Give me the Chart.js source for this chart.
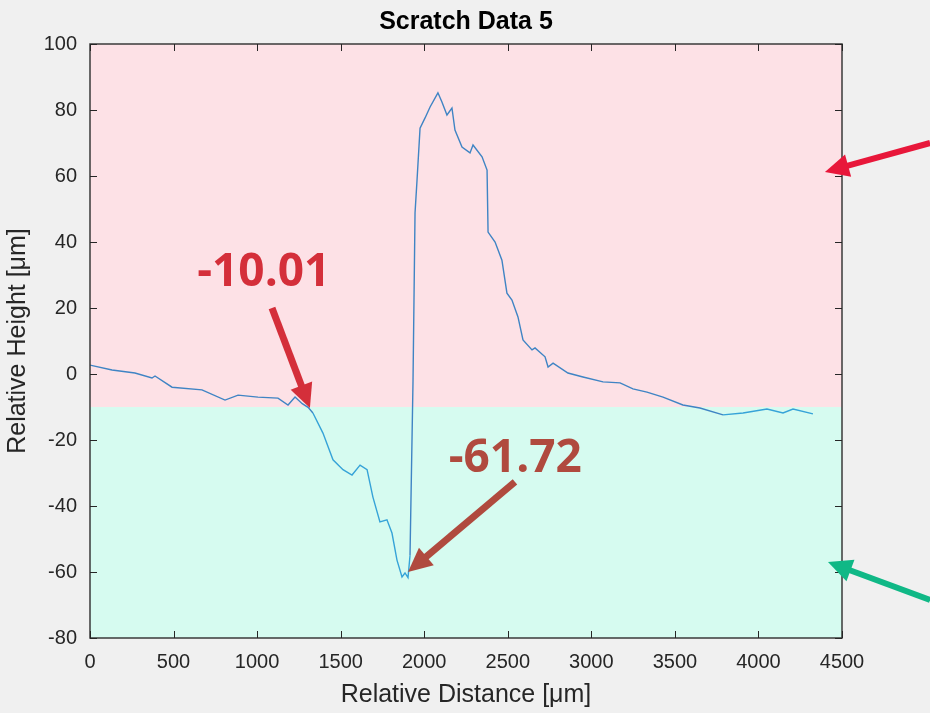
<!DOCTYPE html>
<html>
<head>
<meta charset="utf-8">
<script src="https://cdn.jsdelivr.net/npm/chart.js@4.4.1/dist/chart.umd.min.js"></script>
<style>
  html, body { margin: 0; padding: 0; background: #f0f0f0; }
  #wrap { width: 930px; height: 713px; }
</style>
</head>
<body>
<div id="wrap"><canvas id="c" width="930" height="713"></canvas></div>
<script>
// ---- data ----
const distance = [0,132,269,371,389,491,670,808,886,1005,1125,1185,1227,1270,1305,1334,1394,1454,1514,1568,1616,1658,1693,1735,1777,1807,1837,1867,1885,1903,1915,1933,1945,1957,1975,2005,2035,2082,2106,2136,2166,2184,2226,2274,2292,2346,2376,2382,2424,2465,2495,2525,2561,2591,2645,2663,2723,2741,2771,2860,2950,3070,3172,3249,3333,3429,3548,3650,3788,3908,4051,4147,4207,4326];
const height = [2.7,1.2,0.3,-1.2,-0.6,-4,-4.8,-7.9,-6.4,-7,-7.3,-9.4,-7,-9,-10.1,-11.8,-17.9,-26,-29,-30.6,-27.6,-29,-37.3,-44.8,-44.2,-48.2,-56.4,-61.5,-60.3,-61.7,-55,-2,48.8,58.8,74.5,77.6,80.9,85.2,82.4,78.5,80.6,73.9,68.8,67,69.4,65.8,61.8,43,40,34.5,24.5,22.4,17.3,10.3,7.3,7.9,5.2,2.1,3.3,0.3,-0.9,-2.4,-2.7,-4.5,-5.5,-7,-9.4,-10.3,-12.4,-11.8,-10.6,-11.8,-10.6,-12.1];
const threshold = [-10.01];
const xTicks = [0,500,1000,1500,2000,2500,3000,3500,4000,4500];
const yTicks = [-80,-60,-40,-20,0,20,40,60,80,100];
const labelTexts = ['-10.01','-61.72'];
const labelAt = [[1040,30.5],[2545,-25.6]];
const arrowFrom = [[1089,20],[2543,-32.7],[5027,70],[5027,-68.5]];
const arrowTo = [[1316,-10.3],[1903,-60],[4398,61.2],[4416,-57]];
const arrowColors = ['#d42f3a','#b04a3e','#e8173a','#10b886'];
const labelColors = ['#d42f3a','#b04a3e'];

const points = distance.map((d,i)=>({x:d,y:height[i]}));
const FONT = '"Liberation Sans", Arial, Helvetica, sans-serif';

function drawArrow(ctx, x0, y0, x1, y1, color, w, L, W) {
  const ang = Math.atan2(y1-y0, x1-x0);
  const bx = x1 - Math.cos(ang)*L, by = y1 - Math.sin(ang)*L;
  ctx.save();
  ctx.strokeStyle = color; ctx.fillStyle = color;
  ctx.lineWidth = w; ctx.lineCap = 'butt';
  ctx.beginPath(); ctx.moveTo(x0,y0); ctx.lineTo(bx + Math.cos(ang)*2, by + Math.sin(ang)*2); ctx.stroke();
  const px = -Math.sin(ang), py = Math.cos(ang);
  ctx.beginPath();
  ctx.moveTo(x1,y1);
  ctx.lineTo(bx + px*W/2, by + py*W/2);
  ctx.lineTo(bx - px*W/2, by - py*W/2);
  ctx.closePath(); ctx.fill();
  ctx.restore();
}

const decor = {
  id: 'decor',
  beforeDatasetsDraw(chart) {
    const {ctx, chartArea:a, scales:{x,y}} = chart;
    const ty = y.getPixelForValue(threshold[0]);
    ctx.save();
    ctx.fillStyle = '#fde1e6';
    ctx.fillRect(a.left, a.top, a.right-a.left, ty-a.top);
    ctx.fillStyle = '#d6fbf0';
    ctx.fillRect(a.left, ty, a.right-a.left, a.bottom-ty);
    ctx.restore();
  },
  afterDatasetsDraw(chart) {
    const {ctx, chartArea:a, scales:{x,y}} = chart;
    ctx.save();
    ctx.strokeStyle = '#3a3a3a'; ctx.lineWidth = 1.5;
    ctx.strokeRect(a.left, a.top, a.right-a.left, a.bottom-a.top);
    ctx.lineWidth = 1; ctx.strokeStyle = '#262626';
    ctx.beginPath();
    xTicks.forEach(v=>{
      const p = Math.round(x.getPixelForValue(v))+0.5;
      ctx.moveTo(p,a.bottom); ctx.lineTo(p,a.bottom-7);
      ctx.moveTo(p,a.top); ctx.lineTo(p,a.top+7);
    });
    yTicks.forEach(v=>{
      const p = Math.round(y.getPixelForValue(v))+0.5;
      ctx.moveTo(a.left,p); ctx.lineTo(a.left+7,p);
      ctx.moveTo(a.right,p); ctx.lineTo(a.right-7,p);
    });
    ctx.stroke();
    ctx.restore();
    arrowFrom.forEach((f,i)=>{
      const t = arrowTo[i];
      drawArrow(ctx, x.getPixelForValue(f[0]), y.getPixelForValue(f[1]),
        x.getPixelForValue(t[0]), y.getPixelForValue(t[1]), arrowColors[i], i<2?7:6, 24, 23);
    });
    ctx.save();
    ctx.font = 'bold 46px "Open Sans"';
    ctx.textAlign = 'center'; ctx.textBaseline = 'middle';
    labelTexts.forEach((s,i)=>{
      ctx.fillStyle = labelColors[i];
      ctx.fillText(s, x.getPixelForValue(labelAt[i][0]), y.getPixelForValue(labelAt[i][1]));
    });
    ctx.restore();
  }
};

new Chart(document.getElementById('c'), {
  type: 'scatter',
  data: { datasets: [{
    data: points, showLine: true, pointRadius: 0, borderWidth: 1.4, tension: 0,
    borderColor: '#3f84c4',
    segment: { borderColor: c => (c.p0.parsed.y < threshold[0] - 0.5 && c.p1.parsed.y < threshold[0] - 0.5) ? '#36a3d8' : '#3f84c4' }
  }]},
  options: {
    responsive: false, animation: false, events: [],
    layout: { padding: { left: 0, right: 88, top: 0, bottom: 0 } },
    plugins: {
      legend: { display: false }, tooltip: { enabled: false },
      title: { display: true, fullSize: false, text: 'Scratch Data 5', color: '#000',
        font: { family: FONT, size: 25, weight: 'bold' },
        padding: { top: 7, bottom: 7 } }
    },
    scales: {
      x: { type: 'linear', min: 0, max: 4500,
        afterFit: s => { s.height = 75; },
        afterBuildTicks: s => { s.ticks = xTicks.map(v=>({value:v})); },
        grid: { display: false, drawTicks: false }, border: { display: false },
        ticks: { padding: 12, color: '#262626', maxRotation: 0, autoSkip: false,
          callback: v => String(v),
          font: { family: FONT, size: 20 } },
        title: { display: true, text: 'Relative Distance [μm]', color: '#262626',
          font: { family: FONT, size: 25 }, padding: { top: 3, bottom: 3 } }
      },
      y: { type: 'linear', min: -80, max: 100,
        afterFit: s => { s.width = 90; },
        afterBuildTicks: s => { s.ticks = yTicks.map(v=>({value:v})); },
        grid: { display: false, drawTicks: false }, border: { display: false },
        ticks: { padding: 13, color: '#262626', autoSkip: false,
          callback: v => String(v),
          font: { family: FONT, size: 20 } },
        title: { display: true, text: 'Relative Height [μm]', color: '#262626',
          font: { family: FONT, size: 25 }, padding: { top: 3, bottom: 3 } }
      }
    }
  },
  plugins: [decor]
});
</script>
</body>
</html>
